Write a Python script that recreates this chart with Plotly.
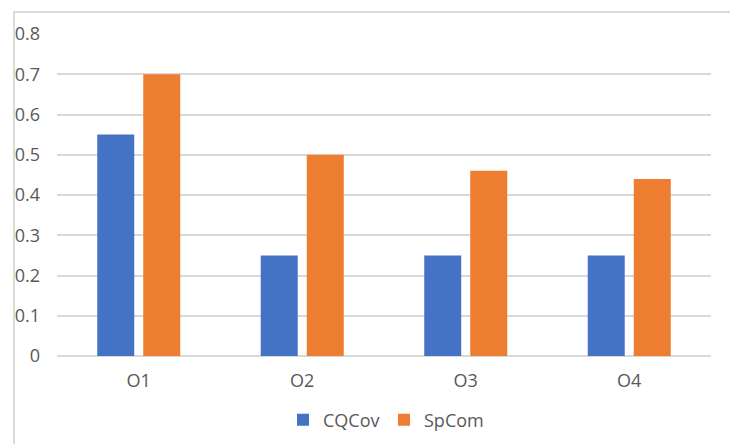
import plotly.graph_objects as go

categories = ["O1", "O2", "O3", "O4"]
cqcov = [0.55, 0.25, 0.25, 0.25]
spcom = [0.70, 0.50, 0.46, 0.44]
y_ticks = [0, 0.1, 0.2, 0.3, 0.4, 0.5, 0.6, 0.7, 0.8]
y_tick_labels = ["0", "0.1", "0.2", "0.3", "0.4", "0.5", "0.6", "0.7", "0.8"]

BLUE = "#4472C4"
ORANGE = "#ED7D31"
GRID = "#d9d9d9"
TEXT = "#595959"
FONT = "Open Sans"
SIZE = 18

fig = go.Figure()
fig.add_trace(go.Bar(name="CQCov", x=categories, y=cqcov, marker_color=BLUE,
                     marker_line_width=0))
fig.add_trace(go.Bar(name="SpCom", x=categories, y=spcom, marker_color=ORANGE,
                     marker_line_width=0))

# chart frame (top and left edges visible inside the window)
fig.add_shape(type="rect", xref="paper", yref="paper",
              x0=-0.0657, x1=1.3, y0=-0.6, y1=1.068,
              line=dict(color="#cfcfcf", width=1.5), layer="below")

fig.update_layout(
    width=730, height=444,
    margin=dict(l=57, r=19, t=34, b=88, autoexpand=False),
    paper_bgcolor="white", plot_bgcolor="white",
    barmode="group", bargap=0.437, bargroupgap=0.196,
    font=dict(family=FONT, size=SIZE, color=TEXT),
    showlegend=True,
    legend=dict(orientation="h", x=0.5, xanchor="center",
                yref="container", y=0.054, yanchor="middle",
                font=dict(family=FONT, size=SIZE, color=TEXT),
                itemwidth=30, tracegroupgap=0, entrywidth=56),
    xaxis=dict(showgrid=False, showline=False, zeroline=False,
               ticks="", ticklabelstandoff=12,
               tickfont=dict(family=FONT, size=SIZE, color=TEXT)),
    yaxis=dict(range=[0, 0.8], tickvals=y_ticks, ticktext=y_tick_labels,
               showgrid=True, gridcolor=GRID, gridwidth=1.5,
               zeroline=True, zerolinecolor=GRID, zerolinewidth=1.5,
               showline=False, ticks="", ticklabelstandoff=16,
               tickfont=dict(family=FONT, size=SIZE, color=TEXT)),
)

fig.write_html("out.html")
